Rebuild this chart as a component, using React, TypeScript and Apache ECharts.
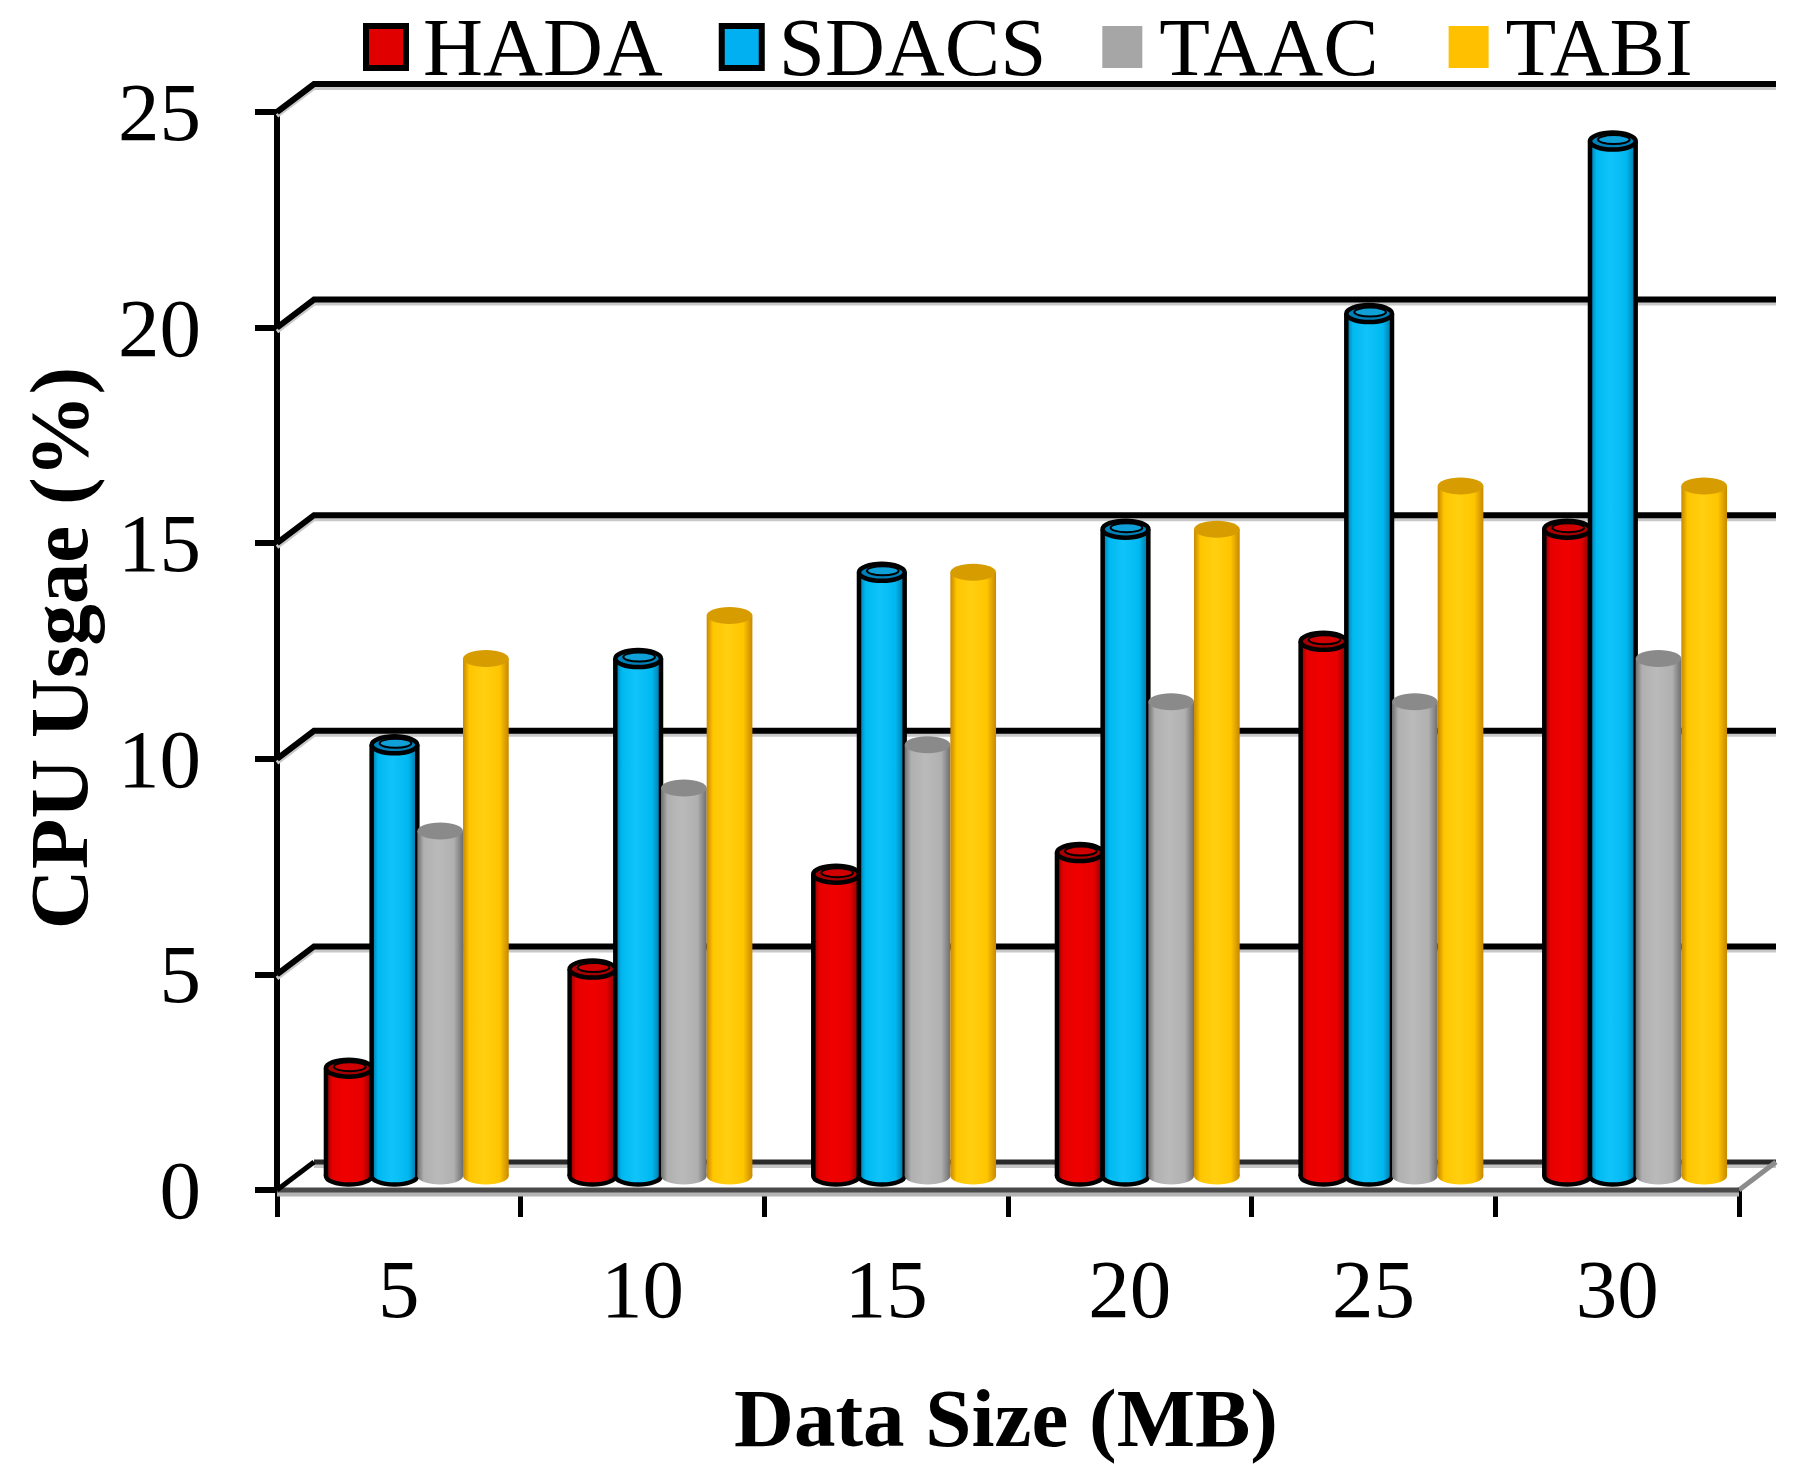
import React, { useEffect, useRef } from 'react';
import * as echarts from 'echarts';

const categories = ['5', '10', '15', '20', '25', '30'];
const seriesNames = ['HADA', 'SDACS', 'TAAC', 'TABI'];
const hadaValues = [2.5, 4.8, 7, 7.5, 12.4, 15];
const sdacsValues = [10, 12, 14, 15, 20, 24];
const taacValues = [8, 9, 10, 11, 11, 12];
const tabiValues = [12, 13, 14, 15, 16, 16];
const yTicks = [0, 5, 10, 15, 20, 25];

const FONT = '"Liberation Serif", "Times New Roman", serif';
const FS = 83;
const DX = 37;
const DY = 28;

const palettes = [
  { base: '#e60000', dark: '#8a0000', light: '#f00000', top: '#a80000', inner: '#d00000', border: true, legend: '#e00000' },
  { base: '#00b8f0', dark: '#0070a0', light: '#10c4fa', top: '#0080b8', inner: '#10a0d8', border: true, legend: '#00b0f0' },
  { base: '#b0b0b0', dark: '#6e6e6e', light: '#bababa', top: '#8a8a8a', inner: '#8a8a8a', border: false, legend: '#a6a6a6' },
  { base: '#ffc600', dark: '#c88800', light: '#ffcf10', top: '#d69c00', inner: '#d69c00', border: false, legend: '#ffc000' },
];
const legendExtraRight = [0, 0, 14, 0];

function grad(p: any) {
  return new echarts.graphic.LinearGradient(0, 0, 1, 0, [
    { offset: 0, color: p.dark },
    { offset: 0.14, color: p.base },
    { offset: 0.45, color: p.light },
    { offset: 0.8, color: p.base },
    { offset: 1, color: p.dark },
  ]);
}

function makeBarRender(k: number) {
  const p = palettes[k];
  return (params: any, api: any) => {
    const idx = api.value(0);
    const val = api.value(1);
    const base = api.coord([idx, 0]);
    const top = api.coord([idx, val]);
    const catW = api.size([1, 0])[0];
    const bw = catW * 0.1875;
    const x = base[0] + DX / 2 - 2 * bw + k * bw;
    const yB = base[1] - DY / 2;
    const yT = top[1] - DY / 2;
    const cx = x + bw / 2;
    const rx = bw / 2;
    const ry = 8.5;
    const lw = 4.5;
    const children: any[] = [];
    children.push({
      type: 'ellipse',
      shape: { cx, cy: yB, rx, ry },
      style: p.border ? { fill: grad(p), stroke: '#000', lineWidth: lw } : { fill: grad(p) },
    });
    children.push({
      type: 'rect',
      shape: { x, y: yT, width: bw, height: yB - yT },
      style: { fill: grad(p) },
    });
    if (p.border) {
      children.push({ type: 'line', shape: { x1: x, y1: yT, x2: x, y2: yB }, style: { stroke: '#000', lineWidth: lw } });
      children.push({ type: 'line', shape: { x1: x + bw, y1: yT, x2: x + bw, y2: yB }, style: { stroke: '#000', lineWidth: lw } });
      children.push({
        type: 'ellipse',
        shape: { cx, cy: yT, rx, ry },
        style: { fill: p.top, stroke: '#000', lineWidth: lw },
      });
      children.push({
        type: 'ellipse',
        shape: { cx: cx + 1, cy: yT - 1.5, rx: rx - 7, ry: ry - 4 },
        style: { fill: p.inner, stroke: '#000', lineWidth: 2 },
      });
    } else {
      children.push({
        type: 'ellipse',
        shape: { cx, cy: yT, rx, ry },
        style: { fill: p.top },
      });
    }
    return { type: 'group', children };
  };
}

function gridRender(params: any, api: any) {
  const v = api.value(1);
  const cs = params.coordSys;
  const p = api.coord([0, v]);
  const x0 = cs.x;
  const x1 = cs.x + cs.width;
  const y = p[1];
  const children: any[] = [];
  if (v === 0) {
    children.push({
      type: 'polygon',
      shape: { points: [[x0, y], [x1, y], [x1 + DX, y - DY], [x0 + DX, y - DY]] },
      style: { fill: '#ffffff' },
    });
    children.push({ type: 'line', shape: { x1: x0 + DX, y1: y - DY + 4, x2: x1 + DX, y2: y - DY + 4 }, style: { stroke: '#c4c4c4', lineWidth: 4 } });
    children.push({ type: 'line', shape: { x1: x0 + DX, y1: y - DY, x2: x1 + DX, y2: y - DY }, style: { stroke: '#2a2a2a', lineWidth: 5 } });
    children.push({ type: 'line', shape: { x1: x1, y1: y, x2: x1 + DX, y2: y - DY }, style: { stroke: '#8c8c8c', lineWidth: 5 } });
    children.push({ type: 'line', shape: { x1: x0, y1: y + 4, x2: x1, y2: y + 4 }, style: { stroke: '#b4b4b4', lineWidth: 5 } });
    children.push({ type: 'line', shape: { x1: x0, y1: y, x2: x1, y2: y }, style: { stroke: '#4a4a4a', lineWidth: 5 } });
    children.push({ type: 'line', shape: { x1: x0, y1: y, x2: x0 + DX, y2: y - DY }, style: { stroke: '#000', lineWidth: 5 } });
  } else {
    const pts = [[x0, y], [x0 + DX, y - DY], [x1 + DX, y - DY]];
    children.push({
      type: 'polyline',
      shape: { points: pts.map((q) => [q[0], q[1] + 4]) },
      style: { stroke: '#c8c8c8', lineWidth: 4, fill: null },
    });
    children.push({
      type: 'polyline',
      shape: { points: pts },
      style: { stroke: '#000', lineWidth: 6, fill: null, lineJoin: 'miter' },
    });
  }
  return { type: 'group', children };
}

const valueSets = [hadaValues, sdacsValues, taacValues, tabiValues];

export default function App() {
  const ref = useRef<HTMLDivElement>(null);
  useEffect(() => {
    if (!ref.current) return;
    const chart = echarts.init(ref.current, undefined, { renderer: 'svg' });
    const barSeries = seriesNames.map((name, k) => ({
      type: 'custom',
      name,
      renderItem: makeBarRender(k),
      encode: { x: 0, y: 1 },
      data: valueSets[k].map((v, i) => [i, v]),
      itemStyle: { color: palettes[k].legend },
      z: 5 + k,
      clip: false,
    }));
    chart.setOption({
      animation: false,
      backgroundColor: '#ffffff',
      grid: { left: 277, right: 60, top: 112, bottom: 282, containLabel: false },
      legend: {
        top: 0,
        left: 358,
        itemWidth: 40,
        itemHeight: 42,
        itemGap: 56,
        textStyle: { fontFamily: FONT, fontSize: FS, color: '#000', lineHeight: 84, padding: [0, 0, 0, 12] },
        data: seriesNames.map((name, k) => ({
          name,
          icon: 'rect',
          textStyle: { padding: [0, legendExtraRight[k], 0, 12] },
          itemStyle: palettes[k].border
            ? { color: palettes[k].legend, borderColor: '#000', borderWidth: 6 }
            : { color: palettes[k].legend, borderWidth: 0 },
        })),
      },
      xAxis: {
        type: 'category',
        data: categories,
        boundaryGap: true,
        axisLine: { show: false },
        axisTick: { show: true, length: 27, lineStyle: { color: '#000', width: 5 } },
        axisLabel: { fontFamily: FONT, fontSize: FS, color: '#000', margin: 57, lineHeight: 83 },
        splitLine: { show: false },
      },
      yAxis: {
        type: 'value',
        min: 0,
        max: 25,
        interval: 5,
        axisLine: { show: true, lineStyle: { color: '#000', width: 6 } },
        axisTick: { show: true, length: 22, lineStyle: { color: '#000', width: 6 } },
        axisLabel: { fontFamily: FONT, fontSize: FS, color: '#000', margin: 76 },
        splitLine: { show: false },
      },
      graphic: [
        {
          type: 'text',
          x: 1006,
          y: 1418,
          style: {
            text: 'Data Size (MB)',
            font: `bold ${FS}px ${FONT}`,
            fill: '#000',
            textAlign: 'center',
            textVerticalAlign: 'middle',
          },
        },
        {
          type: 'text',
          x: 59,
          y: 648,
          rotation: Math.PI / 2,
          style: {
            text: 'CPU Usgae (%)',
            font: `bold ${FS}px ${FONT}`,
            fill: '#000',
            textAlign: 'center',
            textVerticalAlign: 'middle',
          },
        },
      ],
      series: [
        {
          type: 'custom',
          name: 'grid-wall',
          renderItem: gridRender,
          encode: { x: 0, y: 1 },
          data: yTicks.map((v) => [0, v]),
          z: 1,
          clip: false,
          silent: true,
        },
        ...barSeries,
      ],
    });
    return () => chart.dispose();
  }, []);
  return (
    <div
      ref={ref}
      style={{ position: 'fixed', left: 0, top: 0, width: 1799, height: 1472 }}
    />
  );
}
